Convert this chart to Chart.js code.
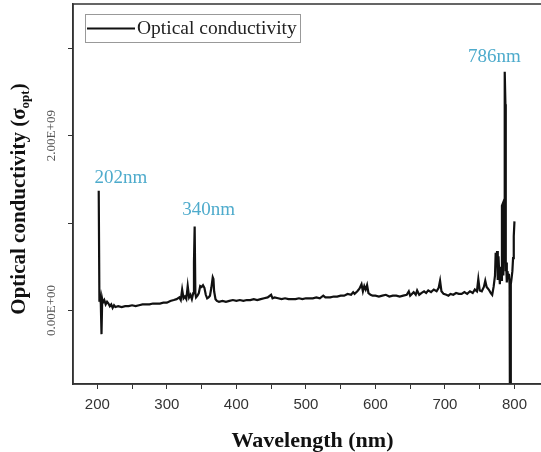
<!DOCTYPE html>
<html>
<head>
<meta charset="utf-8">
<script src="https://cdn.jsdelivr.net/npm/chart.js@4.4.1/dist/chart.umd.min.js"></script>
<style>
html, body { margin: 0; padding: 0; overflow: hidden; background: #fff; }
#wrap { width: 552px; height: 452px; }
</style>
</head>
<body>
<div id="wrap"><canvas id="chart" width="552" height="452"></canvas></div>
<script>
// wavelength in nm, conductivity in units of 1E+09
const wavelength = [
  202, 203, 204, 205, 206, 207, 208, 210, 212, 214, 216, 218, 220, 222, 224, 226, 230, 235, 240, 245,
  250, 255, 260, 265, 270, 275, 280, 285, 290, 295, 300, 305, 310, 314, 318, 320, 322, 324, 326, 328,
  330, 332, 334, 336, 338, 339, 340, 341, 342, 344, 346, 348, 350, 352, 354, 356, 358, 360, 362, 364,
  366, 367, 368, 370, 372, 375, 380, 385, 390, 395, 400, 405, 410, 415, 420, 425, 430, 435, 440, 445,
  450, 452, 455, 460, 465, 470, 475, 480, 485, 490, 495, 500, 505, 510, 515, 520, 525, 528, 530, 535,
  540, 545, 550, 555, 560, 565, 568, 570, 574, 577, 580, 582, 584, 586, 588, 590, 593, 596, 600, 605,
  610, 615, 620, 625, 630, 635, 640, 645, 648, 650, 655, 658, 660, 663, 666, 670, 673, 676, 680, 684,
  688, 691, 693, 695, 698, 702, 705, 708, 712, 716, 720, 724, 728, 732, 736, 740, 743, 746, 748, 750,
  753, 756, 758, 760, 763, 766, 768, 770, 772, 773, 774, 775, 776, 777, 778, 779, 780, 781, 782, 783,
  784, 785, 786, 787, 787.5, 788, 789, 790, 791, 792, 793, 793.5, 794, 794.5, 795, 796, 797, 798, 799, 800
];
const conductivity = [
  1.37, 0.10, 0.16, 0.08, -0.27, 0.13, 0.09, 0.12, 0.07, 0.10, 0.08, 0.05, 0.07, 0.03, 0.06, 0.04, 0.05, 0.04, 0.05, 0.05,
  0.06, 0.05, 0.06, 0.07, 0.07, 0.07, 0.08, 0.08, 0.08, 0.09, 0.09, 0.11, 0.12, 0.13, 0.15, 0.12, 0.24, 0.14, 0.16, 0.13,
  0.28, 0.15, 0.18, 0.13, 0.20, 0.55, 0.96, 0.20, 0.15, 0.17, 0.20, 0.28, 0.27, 0.29, 0.26, 0.18, 0.14, 0.15, 0.17, 0.26,
  0.38, 0.36, 0.22, 0.13, 0.11, 0.10, 0.11, 0.10, 0.11, 0.12, 0.11, 0.12, 0.11, 0.12, 0.12, 0.13, 0.12, 0.13, 0.14, 0.15,
  0.18, 0.14, 0.15, 0.14, 0.13, 0.14, 0.13, 0.13, 0.13, 0.14, 0.13, 0.14, 0.14, 0.14, 0.15, 0.14, 0.17, 0.15, 0.15, 0.15,
  0.16, 0.16, 0.17, 0.17, 0.19, 0.18, 0.21, 0.19, 0.22, 0.25, 0.30, 0.22, 0.28, 0.24, 0.29, 0.20, 0.18, 0.17, 0.17, 0.16,
  0.17, 0.18, 0.16, 0.17, 0.17, 0.16, 0.17, 0.18, 0.22, 0.17, 0.21, 0.18, 0.23, 0.18, 0.20, 0.22, 0.20, 0.23, 0.21, 0.24,
  0.22, 0.26, 0.34, 0.22, 0.19, 0.18, 0.17, 0.19, 0.18, 0.20, 0.19, 0.19, 0.21, 0.19, 0.22, 0.20, 0.24, 0.22, 0.36, 0.23,
  0.22, 0.27, 0.34, 0.27, 0.24, 0.20, 0.18, 0.27, 0.40, 0.66, 0.52, 0.68, 0.35, 0.62, 0.45, 0.30, 0.50, 0.35, 1.20, 1.22,
  0.40, 0.90, 2.73, 2.36, 0.45, 0.55, 0.32, 0.45, 0.38, 0.42, 0.30, -1.20, -1.20, 0.30, 0.30, 0.38, 0.45, 0.60, 0.85, 1.02
];

const xTicks = [200, 250, 300, 350, 400, 450, 500, 550, 600, 650, 700, 750, 800];
const yTicks = [0, 1, 2, 3];
const yLabelValues = [0, 2];
const yLabelTexts = ['0.00E+00', '2.00E+09'];

const peakNames = ['202nm', '340nm', '786nm'];
const peakNameX = [234, 360, 771];
const peakNameY = [1.51, 1.15, 2.90];

const serif = '"Liberation Serif", "Times New Roman", serif';

const decorations = {
  id: 'decorations',
  afterDraw(chart) {
    const { ctx, chartArea: a, scales: { x, y } } = chart;
    ctx.save();

    // plot frame
    ctx.strokeStyle = '#333';
    ctx.lineWidth = 1.5;
    ctx.strokeRect(a.left, a.top, a.right - a.left, a.bottom - a.top);

    // rotated y tick labels
    ctx.fillStyle = '#555';
    ctx.font = '13px ' + serif;
    ctx.textAlign = 'center';
    ctx.textBaseline = 'middle';
    yLabelValues.forEach((v, i) => {
      ctx.save();
      ctx.translate(52, y.getPixelForValue(v));
      ctx.rotate(-Math.PI / 2);
      ctx.fillText(yLabelTexts[i], 0, 0);
      ctx.restore();
    });

    // y title with subscript
    const mainText = 'Optical conductivity (\u03c3';
    const subText = 'opt';
    const endText = ')';
    const mainFont = 'bold 21px ' + serif;
    const subFont = 'bold 13px ' + serif;
    ctx.font = mainFont;
    const w1 = ctx.measureText(mainText).width;
    const w3 = ctx.measureText(endText).width;
    ctx.font = subFont;
    const w2 = ctx.measureText(subText).width;
    const total = w1 + w2 + w3;
    ctx.save();
    ctx.translate(18, 199);
    ctx.rotate(-Math.PI / 2);
    ctx.fillStyle = '#111';
    ctx.textAlign = 'left';
    ctx.textBaseline = 'alphabetic';
    let start = -total / 2;
    ctx.font = mainFont;
    ctx.fillText(mainText, start, 7);
    ctx.font = subFont;
    ctx.fillText(subText, start + w1, 11);
    ctx.font = mainFont;
    ctx.fillText(endText, start + w1 + w2, 7);
    ctx.restore();

    // peak labels
    ctx.fillStyle = '#4eabcc';
    ctx.font = '19px ' + serif;
    ctx.textAlign = 'center';
    ctx.textBaseline = 'middle';
    peakNames.forEach((t, i) => {
      ctx.fillText(t, x.getPixelForValue(peakNameX[i]), y.getPixelForValue(peakNameY[i]));
    });

    // legend box
    ctx.strokeStyle = '#999';
    ctx.lineWidth = 1;
    ctx.strokeRect(85.5, 14.5, 215, 28);
    ctx.strokeStyle = '#111';
    ctx.lineWidth = 2;
    ctx.beginPath();
    ctx.moveTo(87, 28.5);
    ctx.lineTo(135, 28.5);
    ctx.stroke();
    ctx.fillStyle = '#222';
    ctx.font = '19.5px ' + serif;
    ctx.textAlign = 'left';
    ctx.fillText(chart.data.datasets[0].label, 137, 29);

    ctx.restore();
  }
};

const points = wavelength.map((w, i) => ({ x: w, y: conductivity[i] }));

new Chart(document.getElementById('chart'), {
  type: 'line',
  data: {
    datasets: [{
      label: 'Optical conductivity',
      data: points,
      borderColor: '#111',
      borderWidth: 2.2,
      pointRadius: 0,
      tension: 0,
      fill: false
    }]
  },
  options: {
    responsive: false,
    animation: false,
    devicePixelRatio: 1,
    layout: { padding: { top: 4, left: 0, right: 0, bottom: 0 } },
    plugins: { legend: { display: false }, tooltip: { enabled: false } },
    scales: {
      x: {
        type: 'linear',
        min: 165,
        max: 854,
        afterBuildTicks: (scale) => { scale.ticks = xTicks.map((v) => ({ value: v })); },
        afterFit: (scale) => { scale.height = 68; },
        grid: { drawOnChartArea: false, drawTicks: true, tickLength: 5, color: '#333' },
        border: { display: true, color: '#333', width: 1.5 },
        ticks: {
          autoSkip: false,
          maxRotation: 0,
          padding: 7,
          color: '#333',
          font: { family: '"Liberation Sans", Arial, sans-serif', size: 15 },
          callback: (v) => (v % 100 === 0 ? v : '')
        },
        title: {
          display: true,
          text: 'Wavelength (nm)',
          color: '#111',
          padding: 0,
          font: { family: serif, size: 22, weight: 'bold', lineHeight: 1 }
        }
      },
      y: {
        type: 'linear',
        min: -0.84,
        max: 3.505,
        afterBuildTicks: (scale) => { scale.ticks = yTicks.map((v) => ({ value: v })); },
        afterFit: (scale) => { scale.width = 73; },
        grid: { drawOnChartArea: false, drawTicks: true, tickLength: 5, color: '#333' },
        border: { display: true, color: '#333', width: 1.5 },
        ticks: { display: false }
      }
    }
  },
  plugins: [decorations]
});
</script>
</body>
</html>
